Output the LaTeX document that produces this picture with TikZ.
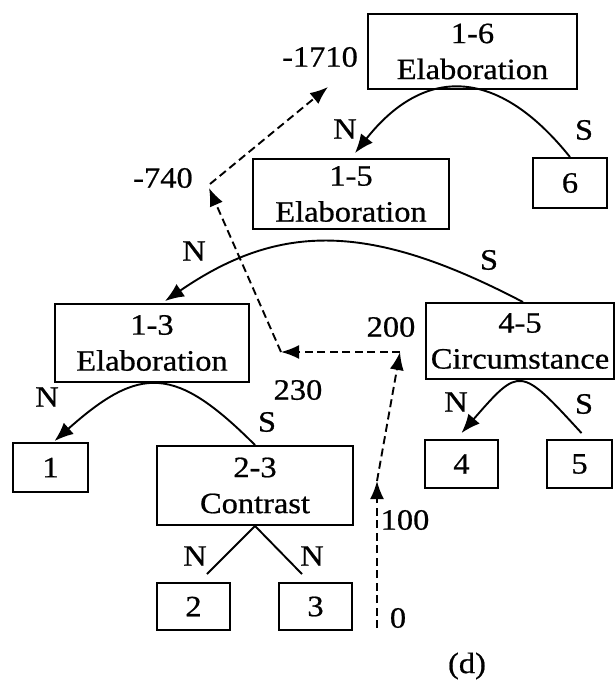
\documentclass[tikz,border=0pt]{standalone}
\usepackage{fontspec}
\setmainfont{Liberation Serif}[FakeStretch=1.1,FakeBold=0.7]
\usetikzlibrary{arrows.meta,calc}

\begin{document}
\begin{tikzpicture}[x=1pt,y=-1pt,
  txt/.style={font=\fontsize{29.5}{36}\selectfont},
  box/.style={txt, draw, line width=1.9pt, inner sep=0pt, align=center},
  lbl/.style={txt, inner sep=0pt},
  rel/.style={line width=1.9pt, -{Latex[length=19pt,width=15pt]}},
  edge/.style={line width=1.9pt},
  flow/.style={line width=1.9pt, dash pattern=on 8pt off 4.5pt, -{Latex[length=18pt,width=14pt]}}]
\useasboundingbox (0,0) rectangle (616,683);

% discourse tree boxes
\node[box, minimum width=209pt, minimum height=75pt] (b16) at (472.5,51.5) {1-6\\Elaboration};
\node[box, minimum width=196pt, minimum height=70pt] (b15) at (351,194) {1-5\\Elaboration};
\node[box, minimum width=74pt,  minimum height=50pt] (b6)  at (570,183) {6};
\node[box, minimum width=194pt, minimum height=78pt] (b13) at (152,343) {1-3\\Elaboration};
\node[box, minimum width=188pt, minimum height=76pt] (b45) at (520,341) {4-5\\Circumstance};
\node[box, minimum width=75pt,  minimum height=49pt] (b1)  at (50.5,467.5) {1};
\node[box, minimum width=196pt, minimum height=79pt] (b23) at (255,485.5) {2-3\\Contrast};
\node[box, minimum width=73pt,  minimum height=48pt] (b4)  at (461.5,464) {4};
\node[box, minimum width=65pt,  minimum height=48pt] (b5)  at (579.5,464) {5};
\node[box, minimum width=73pt,  minimum height=47pt] (b2)  at (193.5,606.5) {2};
\node[box, minimum width=73pt,  minimum height=47pt] (b3)  at (315.5,606.5) {3};

% nucleus / satellite arcs
\draw[rel] (b6.north) .. controls (497,66) and (424,66) .. ($(b15.north)+(4,-5)$);
\draw[rel] ($(b45.north)+(3,0)$) .. controls (370,222) and (280,222) .. ($(b13.north)+(13,-2)$);
\draw[rel] (b23.north) .. controls (175,365) and (140,365) .. ($(b1.north)+(4,-1)$);
\draw[rel] ($(b5.north)+(2,-6)$) .. controls (520,366) and (520,366) .. ($(b4.north)+(0,-6)$);
\draw[edge] (b23.south) -- ($(b2.north)+(13.5,-8)$);
\draw[edge] (b23.south) -- ($(b3.north)+(-13.5,-8)$);

% relation labels
\node[lbl] (n16) at (345,129) {N};
\node[lbl] (s16) at (584,130) {S};
\node[lbl] (n15) at (194,251) {N};
\node[lbl] (s15) at (489,260) {S};
\node[lbl] (n13) at (47,397) {N};
\node[lbl] (s13) at (267,422) {S};
\node[lbl] (n45) at (456,402) {N};
\node[lbl] (s45) at (584,404) {S};
\node[lbl] (n2)  at (195,556) {N};
\node[lbl] (n3)  at (312,556) {N};

% score path
\coordinate (p0)    at (377,628);
\coordinate (p100)  at (377,481);
\coordinate (p200)  at (400,352);
\coordinate (p230)  at (281,352);
\coordinate (p740)  at (209,188);
\coordinate (p1710) at (328,87);

\draw[flow] (p0) -- (p100);
\draw[flow] (p100) -- (p200);
\draw[flow] (p200) -- (p230);
\draw[flow] (p230) -- (p740);
\draw[flow] ($(p740)+(1,-4)$) -- (p1710);

\node[lbl] (v0)    at (398,618) {0};
\node[lbl] (v100)  at (405,520) {100};
\node[lbl] (v200)  at (391,327) {200};
\node[lbl] (v230)  at (298,390) {230};
\node[lbl] (v740)  at (163,178) {-740};
\node[lbl] (v1710) at (320,57) {-1710};

\node[lbl] (cap) at (467,666) {(d)};
\end{tikzpicture}
\end{document}
